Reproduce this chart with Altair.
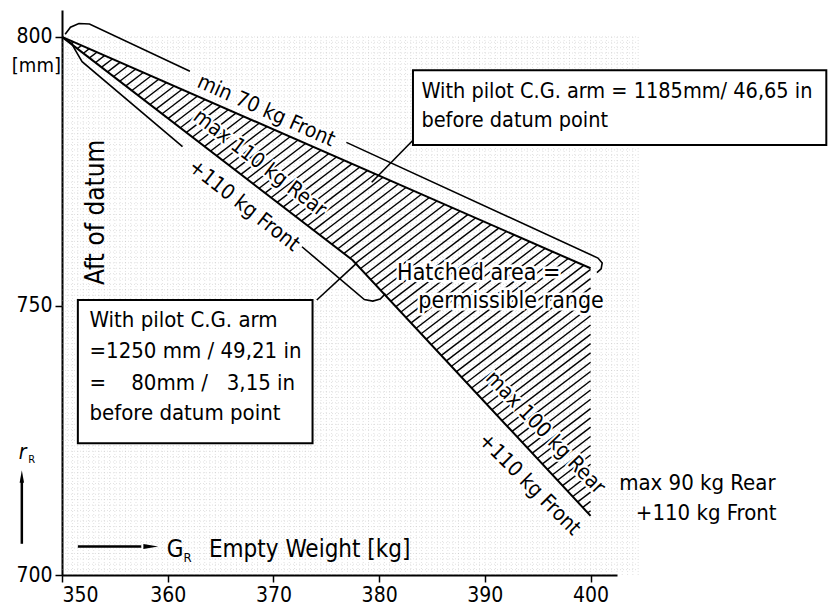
import altair as alt
import numpy as np
import pandas as pd

FONT = "'DejaVu Sans Condensed', 'Liberation Sans Narrow', 'DejaVu Sans'"
NB = "\u00a0"

# ---------------- data ----------------
weight_ticks = [350, 360, 370, 380, 390, 400]
arm_ticks = [700, 750, 800]

# forward limit: min 70 kg front
front_limit_kg = [350, 400]
front_limit_mm = [800, 757]
# rear limit: max 110 kg rear -> max 100 kg rear (+110 kg front)
rear_limit_kg = [350, 377.5, 400]
rear_limit_mm = [800, 758.5, 711]

# callout balloons (outline pieces) around the line labels
balloon_top_a_kg = [350.3, 350.8, 351.6, 352.6, 362.1]
balloon_top_a_mm = [800.5, 801.8, 802.5, 802.4, 793.6]
balloon_top_b_kg = [376.9, 400.7, 401.1, 401.0, 400.6]
balloon_top_b_mm = [780.4, 758.9, 758.0, 756.9, 756.2]
balloon_low_a_kg = [350.4, 350.9, 351.3, 351.9, 361.4]
balloon_low_a_mm = [799.5, 798.8, 797.4, 795.4, 779.6]
balloon_low_b_kg = [372.7, 378.6, 379.4, 380.1, 380.6]
balloon_low_b_mm = [761.0, 751.2, 750.9, 751.3, 752.3]

# leader lines from the boxes to the balloons
leader1_kg = [383.2, 379.3]
leader1_mm = [780.8, 773.0]
leader2_kg = [374.1, 377.9]
leader2_mm = [751.1, 758.0]

# boxes (kg left, kg right, mm top, mm bottom)
box1 = [383.2, 422.3, 793.8, 779.9]
box2 = [351.5, 373.7, 751.1, 724.5]

box1_lines = ["With pilot C.G. arm = 1185mm/ 46,65 in", "before datum point"]
box1_x = [384.0, 384.0]
box1_y = [788.6, 783.3]

box2_lines = ["With pilot C.G. arm", "=1250 mm / 49,21 in",
              "=" + NB * 4 + "80mm /" + NB * 3 + "3,15 in", "before datum point"]
box2_x = [352.6, 352.6, 352.6, 352.6]
box2_y = [746.1, 740.3, 734.4, 728.8]

free_lines = ["Hatched area =", "permissible range"]
free_x = [381.7, 383.7]
free_y = [754.8, 749.6]

right_lines = ["max 90 kg Rear", "+110 kg Front"]
right_x = [417.5, 417.6]
right_y = [715.8, 710.3]

line_labels = ["min 70 kg Front", "max 110 kg Rear", "+110 kg Front", "max 100 kg Rear", "+110 kg Front"]
line_label_x = [369.3, 368.7, 367.2, 395.7, 394.2]
line_label_y = [786.2, 776.5, 768.6, 726.4, 716.8]
line_label_angle = [24, 37.5, 38, 46, 45]

# ---------------- helpers ----------------
xscale = alt.Scale(domain=[350, 402.5], nice=False, zero=False)
yscale = alt.Scale(domain=[700, 805], nice=False, zero=False)
xaxis = alt.Axis(values=weight_ticks, title=None, grid=False, format="d")
yaxis = alt.Axis(values=arm_ticks, title=None, grid=False, format="d")


def X(f="x"):
    return alt.X(f"{f}:Q", scale=xscale, axis=xaxis)


def Y(f="y"):
    return alt.Y(f"{f}:Q", scale=yscale, axis=yaxis)


def polyline(kg, mm, width=1.8):
    df = pd.DataFrame({"x": kg, "y": mm, "o": range(len(kg))})
    return alt.Chart(df).mark_line(color="black", strokeWidth=width, interpolate="linear").encode(
        x=X(), y=Y(), order="o:Q")


def texts(labels, xs, ys, align="left", baseline="alphabetic", size=20, angle=0, halo=False):
    df = pd.DataFrame({"x": xs, "y": ys, "t": labels})
    base = alt.Chart(df)
    fg = base.mark_text(
        align=align, baseline=baseline, fontSize=size, font=FONT,
        color="black", angle=angle).encode(x=X(), y=Y(), text="t:N")
    if not halo:
        return fg
    bg = base.mark_text(
        align=align, baseline=baseline, fontSize=size, font=FONT,
        color="white", stroke="white", strokeWidth=5, angle=angle).encode(x=X(), y=Y(), text="t:N")
    return alt.layer(bg, fg)


# ---------------- graph paper grid ----------------
gx = np.arange(350.5, 405, 0.5)
gy = np.arange(701, 801, 1.0)
grid_v = pd.DataFrame({"x": gx, "y": 700.0, "y2": 800.0})
grid_h = pd.DataFrame({"y": gy, "x": 350.0, "x2": 404.5})
grid = alt.layer(
    alt.Chart(grid_v).mark_rule(color="#aaa", opacity=0.35, strokeDash=[1, 2], strokeWidth=1).encode(
        x=X(), y=Y(), y2="y2:Q"),
    alt.Chart(grid_h).mark_rule(color="#aaa", opacity=0.35, strokeDash=[1, 2], strokeWidth=1).encode(
        y=Y(), x=X(), x2="x2:Q"),
)

# ---------------- hatching of the permissible range ----------------
s = 1.5  # hatch slope, mm per kg
xs = np.linspace(350, 400, 4001)
top = np.interp(xs, front_limit_kg, front_limit_mm)
low = np.interp(xs, rear_limit_kg, rear_limit_mm)
segs = []
for c in np.arange(350.6, 470, 1.15):
    h = 800 + s * (xs - c)
    inside = (h >= low) & (h <= top)
    if not inside.any():
        continue
    xi = xs[inside]
    x0, x1 = xi.min(), xi.max()
    segs.append({"x": x0, "y": 800 + s * (x0 - c), "x2": x1, "y2": 800 + s * (x1 - c)})
hatch_df = pd.DataFrame(segs)
hatch = alt.Chart(hatch_df).mark_rule(color="black", strokeWidth=1.4).encode(
    x=X(), y=Y(), x2="x2:Q", y2="y2:Q")

# ---------------- limit lines ----------------
front = polyline(front_limit_kg, front_limit_mm, 2)
rear = polyline(rear_limit_kg, rear_limit_mm, 2)

balloons = alt.layer(
    polyline(balloon_top_a_kg, balloon_top_a_mm, 1.6),
    polyline(balloon_top_b_kg, balloon_top_b_mm, 1.6),
    polyline(balloon_low_a_kg, balloon_low_a_mm, 1.6),
    polyline(balloon_low_b_kg, balloon_low_b_mm, 1.6),
    polyline(leader1_kg, leader1_mm, 1.6),
    polyline(leader2_kg, leader2_mm, 1.6),
)

# ---------------- boxes ----------------
box_df = pd.DataFrame({"x": [box1[0], box2[0]], "x2": [box1[1], box2[1]],
                       "y": [box1[2], box2[2]], "y2": [box1[3], box2[3]]})
boxes = alt.Chart(box_df).mark_rect(fill="white", stroke="black", strokeWidth=2).encode(
    x=X(), x2="x2:Q", y=Y(), y2="y2:Q")

# ---------------- texts ----------------
t_box1 = texts(box1_lines, box1_x, box1_y, size=21.5)
t_box2 = texts(box2_lines, box2_x, box2_y, size=22)
t_free = texts(free_lines, free_x, free_y, size=23, halo=True)
t_right = texts(right_lines, right_x, right_y, align="right", size=22)

lbl_df = pd.DataFrame({"x": line_label_x, "y": line_label_y, "t": line_labels, "a": line_label_angle})
lbl_base = alt.Chart(lbl_df)
t_lines_bg = lbl_base.mark_text(
    align="center", baseline="middle", fontSize=21, font=FONT, color="white",
    stroke="white", strokeWidth=4).encode(
    x=X(), y=Y(), text="t:N", angle=alt.Angle("a:Q", scale=None))
t_lines = lbl_base.mark_text(
    align="center", baseline="middle", fontSize=21, font=FONT, color="black").encode(
    x=X(), y=Y(), text="t:N", angle=alt.Angle("a:Q", scale=None))

t_aft = texts(["Aft of datum"], [353.2], [767.4], align="center", baseline="middle", size=26, angle=270)
t_mm = texts(["[mm]"], [349.9], [793.5], align="right", size=20)

# axis name arrows
g_arrow = polyline([351.5, 357.5], [705.3, 705.3], 2.5)
g_head = alt.Chart(pd.DataFrame({"x": [358.4], "y": [705.3]})).mark_point(
    shape="M-1,-0.35L1,0L-1,0.35Z", filled=True, color="black", size=220, opacity=1).encode(x=X(), y=Y())
t_g = texts(["G"], [359.9], [703.3], size=24)
t_gr = texts(["R"], [361.5], [702.5], size=13)
t_gname = texts(["Empty Weight [kg]"], [363.9], [703.3], size=24)

r_arrow = polyline([346.2, 346.2], [705.8, 717.5], 2.5)
r_head = alt.Chart(pd.DataFrame({"x": [346.2], "y": [718.3]})).mark_point(
    shape="M-0.35,1L0,-1L0.35,1Z", filled=True, color="black", size=160, opacity=1).encode(x=X(), y=Y())
t_r = alt.Chart(pd.DataFrame({"x": [345.9], "y": [721.6], "t": ["r"]})).mark_text(
    align="left", baseline="alphabetic", fontSize=21, font=FONT, fontStyle="italic", color="black").encode(
    x=X(), y=Y(), text="t:N")
t_rr = texts(["R"], [346.8], [720.8], size=11)

chart = alt.layer(
    grid, hatch, front, rear, balloons, boxes,
    t_box1, t_box2, t_free, t_right, t_lines_bg, t_lines, t_aft, t_mm,
    g_arrow, g_head, t_g, t_gr, t_gname,
    r_arrow, r_head, t_r, t_rr,
).properties(
    width=555, height=565,
    autosize=alt.AutoSizeParams(type="none"),
    padding={"left": 54, "top": 2, "right": 212, "bottom": 31},
).configure_view(stroke=None).configure_axis(
    domainColor="black", domainWidth=2, tickColor="black", tickWidth=1.5,
    labelColor="black", labelFont=FONT, labelFontSize=21,
).configure_axisX(tickSize=7, labelPadding=2).configure_axisY(tickSize=7, labelPadding=3)

chart.save("out.html", embed_options={"renderer": "svg", "actions": False})
